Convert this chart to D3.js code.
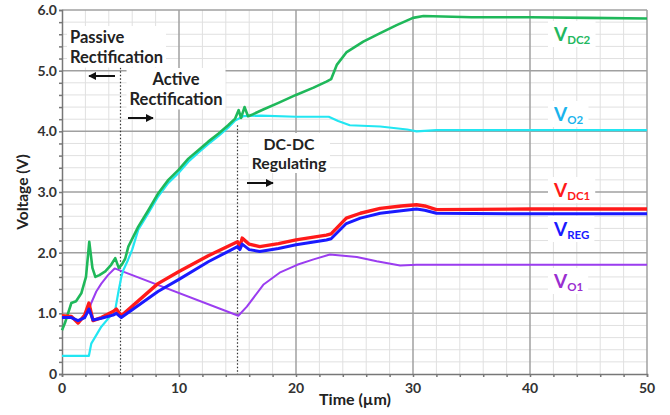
<!DOCTYPE html>
<html lang="en">
  <head>
    <meta charset="UTF-8" />
    <title>Rectifier start-up voltages</title>
    <script src="https://d3js.org/d3.v7.min.js"></script>
    <style>
      body {
        margin: 0;
        padding: 0;
        background: #ffffff;
      }
      svg text {
        font-family: Lato, "Open Sans", sans-serif;
        font-weight: bold;
      }
    </style>
  </head>
  <body>
    <div id="chart"></div>

    <script>
      // -----------------------------
      // Data read off the scope capture
      // -----------------------------
      const xTicks = [0, 10, 20, 30, 40, 50];
      const yTicks = [0, 1, 2, 3, 4, 5, 6];
      const yTickLabels = ["0", "1.0", "2.0", "3.0", "4.0", "5.0", "6.0"];

      const vdc2T = [0, 0.25, 0.8, 1.2, 1.65, 2.05, 2.33, 2.6, 2.85, 3.2, 3.7, 4.2, 4.55, 4.85, 5.1, 5.4, 5.67, 6.52, 7.38, 8.23, 9.09, 9.94, 10.8, 11.65, 12.5, 13.36, 14.2, 14.8, 15.1, 15.3, 15.6, 15.9, 16.3, 17.2, 18.5, 20, 21.5, 22.6, 23.0, 23.5, 24.3, 25.75, 27.2, 28.6, 30, 30.9, 35, 40, 45, 50];
      const vdc2V = [0.72, 0.84, 1.17, 1.2, 1.33, 1.6, 2.18, 1.75, 1.6, 1.63, 1.69, 1.8, 1.91, 1.75, 1.8, 1.9, 2.1, 2.43, 2.7, 2.98, 3.2, 3.36, 3.55, 3.69, 3.83, 3.96, 4.1, 4.21, 4.35, 4.22, 4.4, 4.25, 4.28, 4.36, 4.47, 4.6, 4.72, 4.82, 4.86, 5.1, 5.3, 5.48, 5.62, 5.75, 5.87, 5.9, 5.88, 5.88, 5.87, 5.86];

      const vo2T = [0, 2.3, 2.5, 3.36, 4.2, 4.56, 4.8, 5.07, 5.24, 5.64, 6.0, 6.52, 7.38, 8.23, 9.09, 9.94, 10.8, 11.65, 12.5, 13.36, 14.2, 14.8, 15.5, 17, 20, 22.8, 23.6, 24.6, 27.2, 29.5, 30.3, 32, 40, 50];
      const vo2V = [0.3, 0.3, 0.5, 0.78, 0.97, 1.07, 1.33, 1.6, 1.71, 1.88, 2.05, 2.38, 2.65, 2.93, 3.15, 3.31, 3.5, 3.65, 3.79, 3.92, 4.06, 4.18, 4.25, 4.26, 4.24, 4.24, 4.17, 4.1, 4.08, 4.03, 4.0, 4.02, 4.02, 4.02];

      const vdc1T = [0, 0.8, 1.37, 1.94, 2.3, 2.65, 3.36, 4.36, 4.64, 5.07, 8.2, 10, 12.5, 15.0, 15.2, 15.4, 16.0, 16.9, 18.5, 20, 22.6, 23.0, 24.3, 25.5, 27.2, 29, 30.3, 31, 32, 40, 50];
      const vdc1V = [0.96, 0.95, 0.84, 0.97, 1.17, 0.88, 0.93, 1.03, 1.07, 0.96, 1.49, 1.69, 1.95, 2.18, 2.1, 2.24, 2.14, 2.1, 2.15, 2.21, 2.29, 2.31, 2.57, 2.65, 2.73, 2.77, 2.79, 2.77, 2.71, 2.72, 2.72];

      const vregT = [0, 0.8, 1.37, 1.94, 2.3, 2.65, 3.36, 4.36, 4.64, 5.07, 8.2, 10, 12.5, 15.0, 15.2, 15.4, 16.0, 16.9, 18.5, 20, 22.6, 23.0, 24.3, 25.5, 27.2, 29, 30.3, 31, 32, 40, 50];
      const vregV = [0.93, 0.93, 0.88, 0.93, 1.07, 0.89, 0.92, 0.97, 1.0, 0.93, 1.36, 1.56, 1.85, 2.1, 2.05, 2.14, 2.05, 2.02, 2.07, 2.13, 2.21, 2.23, 2.48, 2.57, 2.65, 2.69, 2.72, 2.7, 2.65, 2.64, 2.64];

      const vo1T = [0, 0.8, 1.37, 1.94, 2.3, 2.5, 2.93, 3.36, 3.93, 4.5, 15.07, 15.8, 17.2, 18.6, 20.1, 21.5, 22.9, 25.2, 26.9, 28.9, 30.3, 50];
      const vo1V = [0.93, 0.93, 0.88, 0.93, 1.05, 1.17, 1.36, 1.49, 1.63, 1.74, 0.96, 1.11, 1.47, 1.67, 1.8, 1.89, 1.97, 1.93, 1.86, 1.79, 1.8, 1.8];

      // -----------------------------
      // Layout
      // -----------------------------
      const W = 670, H = 415;
      const x = d3.scaleLinear().domain([0, 50]).range([62, 647]);
      const y = d3.scaleLinear().domain([0, 6]).range([374, 10]);

      const svg = d3.select("#chart").append("svg")
        .attr("width", W).attr("height", H);

      // grid - minor then major
      const g = svg.append("g");
      g.selectAll(".vminor").data(d3.range(2, 50, 2).filter(d => d % 10 !== 0))
        .join("line")
        .attr("x1", d => x(d)).attr("x2", d => x(d))
        .attr("y1", y(6)).attr("y2", y(0))
        .attr("stroke", "#e0e0e0").attr("stroke-width", 1);
      g.selectAll(".hminor").data(d3.range(1, 30).filter(d => d % 5 !== 0).map(d => d * 0.2))
        .join("line")
        .attr("x1", x(0)).attr("x2", x(50))
        .attr("y1", d => y(d)).attr("y2", d => y(d))
        .attr("stroke", "#e0e0e0").attr("stroke-width", 1);
      g.selectAll(".vmajor").data(xTicks.slice(1))
        .join("line")
        .attr("x1", d => x(d)).attr("x2", d => x(d))
        .attr("y1", y(6)).attr("y2", y(0))
        .attr("stroke", "#a0a0a0").attr("stroke-width", 1.5);
      g.selectAll(".hmajor").data(yTicks.slice(1))
        .join("line")
        .attr("x1", x(0)).attr("x2", x(50))
        .attr("y1", d => y(d)).attr("y2", d => y(d))
        .attr("stroke", "#a0a0a0").attr("stroke-width", 1.5);

      // axes with small ticks
      const xAxis = d3.axisBottom(x).tickValues(d3.range(0, 51, 2)).tickSize(3).tickFormat("");
      svg.append("g").attr("transform", `translate(0,${y(0)})`).call(xAxis)
        .call(a => a.selectAll("line,path").attr("stroke", "#777").attr("stroke-width", 1.5));
      const yAxis = d3.axisLeft(y).tickValues(d3.range(0, 31).map(d => d * 0.2)).tickSize(3).tickFormat("");
      svg.append("g").attr("transform", `translate(${x(0)},0)`).call(yAxis)
        .call(a => a.selectAll("line,path").attr("stroke", "#777").attr("stroke-width", 1.5));

      svg.selectAll(".xl").data(xTicks).join("text")
        .attr("x", d => x(d)).attr("y", 393)
        .attr("text-anchor", "middle").attr("font-size", 14).attr("fill", "#333")
        .text(d => d);
      svg.selectAll(".yl").data(yTicks).join("text")
        .attr("x", 57).attr("y", d => y(d)).attr("dy", "0.36em")
        .attr("text-anchor", "end").attr("font-size", 14).attr("fill", "#333")
        .text((d, i) => yTickLabels[i]);

      svg.append("text").attr("x", 355).attr("y", 405)
        .attr("text-anchor", "middle").attr("font-size", 16).attr("fill", "#222")
        .text("Time (µm)");
      svg.append("text").attr("transform", `translate(28,192) rotate(-90)`)
        .attr("text-anchor", "middle").attr("font-size", 15.5).attr("fill", "#222")
        .text("Voltage (V)");

      // phase boundaries
      const phases = [[5, 5.05], [15, 4.1]];
      svg.selectAll(".phase").data(phases).join("line")
        .attr("x1", d => x(d[0])).attr("x2", d => x(d[0]))
        .attr("y1", d => y(d[1])).attr("y2", y(0))
        .attr("stroke", "#333").attr("stroke-width", 1.2).attr("stroke-dasharray", "1.5,2");

      // white-backed text helper
      function boxedText(lines, px, py, anchor, lh, fs) {
        const grp = svg.append("g");
        const t = grp.append("text").attr("font-size", fs).attr("fill", "#222")
          .attr("text-anchor", anchor);
        lines.forEach((s, i) => t.append("tspan").attr("x", px).attr("y", py + i * lh).text(s));
        const b = t.node().getBBox();
        grp.insert("rect", "text").attr("x", b.x - 3).attr("y", b.y - 1)
          .attr("width", b.width + 6).attr("height", b.height + 2).attr("fill", "#fff");
      }
      boxedText(["Passive", "Rectification"], 70, 43, "start", 19.5, 16.5);
      boxedText(["Active", "Rectification"], 176, 85, "middle", 19.5, 16.5);
      boxedText(["DC-DC", "Regulating"], 289, 150, "middle", 19, 15.8);

      // arrows
      svg.append("defs").append("marker").attr("id", "ah")
        .attr("viewBox", "0 0 10 10").attr("refX", 9).attr("refY", 5)
        .attr("markerWidth", 4).attr("markerHeight", 4).attr("orient", "auto")
        .append("path").attr("d", "M0,0 L10,5 L0,10 z").attr("fill", "#111");
      const arrows = [[115, 89, 76], [128, 153, 118], [247, 273, 183]];
      svg.selectAll(".arr").data(arrows).join("line")
        .attr("x1", d => d[0]).attr("x2", d => d[1])
        .attr("y1", d => d[2]).attr("y2", d => d[2])
        .attr("stroke", "#111").attr("stroke-width", 2).attr("marker-end", "url(#ah)");

      // traces
      const series = [
        { t: vo1T, v: vo1V, color: "#9b3df0", w: 2 },
        { t: vo2T, v: vo2V, color: "#22e6f2", w: 2.2 },
        { t: vdc2T, v: vdc2V, color: "#1fb85a", w: 2.6 },
        { t: vdc1T, v: vdc1V, color: "#ff1a1a", w: 3.4 },
        { t: vregT, v: vregV, color: "#1a1aff", w: 3 },
      ];
      const line = d3.line().x(d => x(d[0])).y(d => y(d[1]));
      svg.selectAll(".trace").data(series).join("path")
        .attr("d", s => line(s.t.map((t, i) => [t, s.v[i]])))
        .attr("fill", "none").attr("stroke", s => s.color)
        .attr("stroke-width", s => s.w).attr("stroke-linejoin", "round");

      // trace labels
      const labels = [
        { sub: "DC2", color: "#22b860", yb: 41 },
        { sub: "O2", color: "#1ab4ec", yb: 121 },
        { sub: "DC1", color: "#ff1a1a", yb: 197 },
        { sub: "REG", color: "#1a1aff", yb: 236 },
        { sub: "O1", color: "#9a2fd0", yb: 288 },
      ];
      labels.forEach(l => {
        const grp = svg.append("g");
        const t = grp.append("text").attr("x", 554).attr("y", l.yb)
          .attr("font-size", 19).attr("fill", l.color);
        t.append("tspan").text("V");
        t.append("tspan").attr("font-size", 11.5).attr("dy", 3).text(l.sub);
        const b = t.node().getBBox();
        grp.insert("rect", "text").attr("x", b.x - 5).attr("y", b.y - 1)
          .attr("width", b.width + 10).attr("height", b.height + 2).attr("fill", "#fff");
      });
    </script>
  </body>
</html>
